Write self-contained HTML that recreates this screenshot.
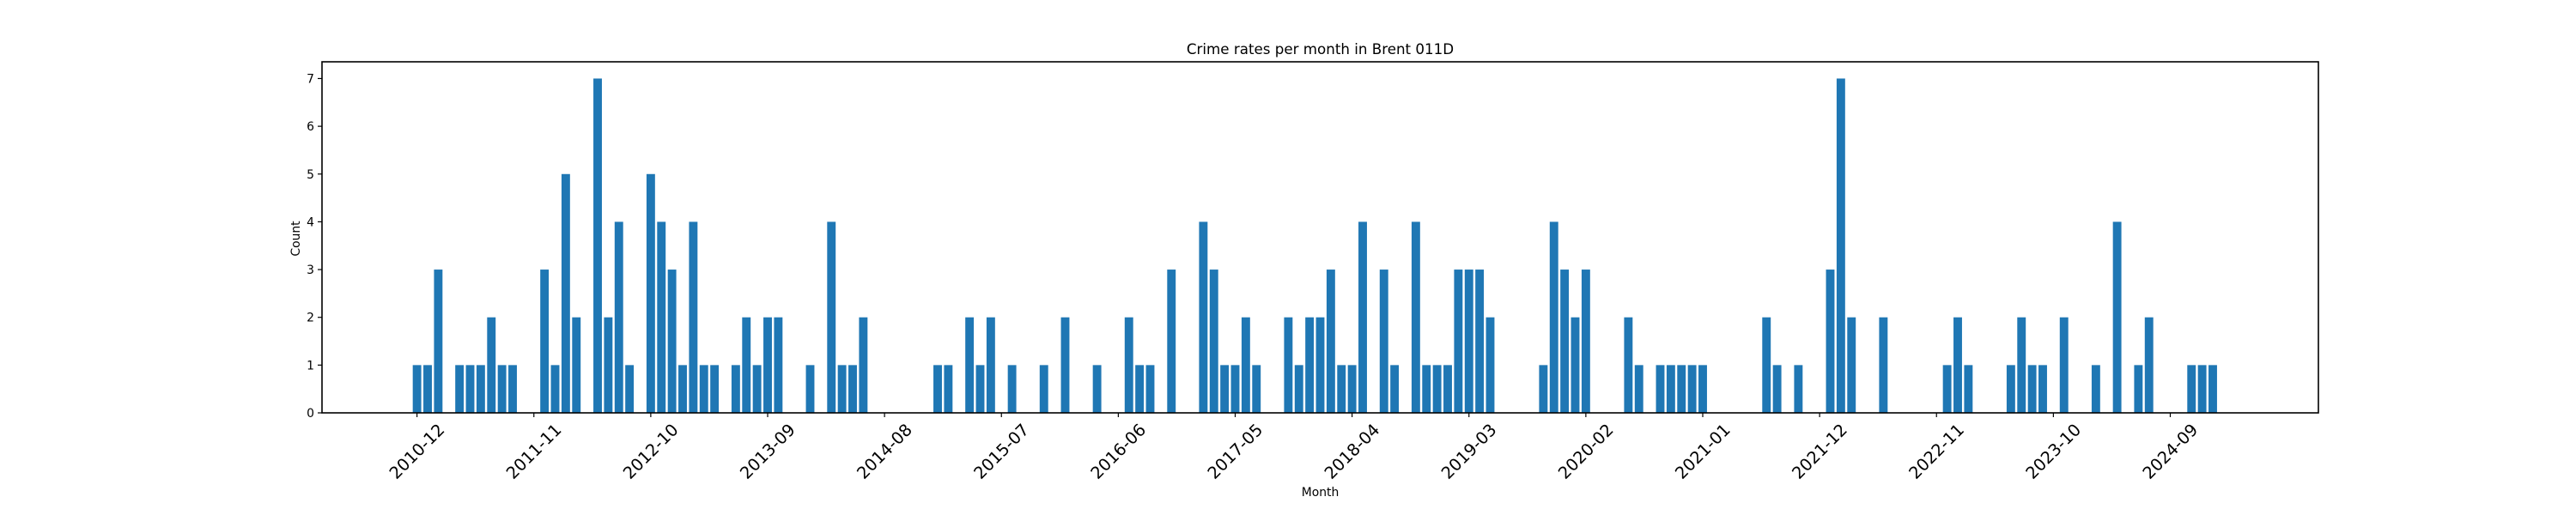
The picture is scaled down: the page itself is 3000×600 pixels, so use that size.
<!DOCTYPE html>
<html><head><meta charset="utf-8"><style>
html,body{margin:0;padding:0;background:#fff;}
svg{display:block;font-family:"DejaVu Sans","Liberation Sans",sans-serif;}
</style></head><body>
<svg id="chart" width="3000" height="600" viewBox="0 0 3000 600">
<rect x="0" y="0" width="3000" height="600" fill="#fff"/>
<g id="bars"></g>
<g id="yticks"></g>
<g id="xticks"></g>
<rect x="375" y="72" width="2325" height="409" fill="none" stroke="#000" stroke-width="1.6"/>
<text x="1537.5" y="63" text-anchor="middle" font-size="16.7" fill="#000">Crime rates per month in Brent 011D</text>
<text x="1537.5" y="578" text-anchor="middle" font-size="13.9" fill="#000">Month</text>
<text transform="translate(349,278) rotate(-90)" text-anchor="middle" font-size="13.9" fill="#000">Count</text>
</svg>
<script>
const startYear = 2010;
const startMonth = 12;
const counts = [
1,1,3,0,1,1,1,2,1,1,0,0,3,1,5,2,0,7,2,4,
1,0,5,4,3,1,4,1,1,0,1,2,1,2,2,0,0,1,0,4,
1,1,2,0,0,0,0,0,0,1,1,0,2,1,2,0,1,0,0,1,
0,2,0,0,1,0,0,2,1,1,0,3,0,0,4,3,1,1,2,1,
0,0,2,1,2,2,3,1,1,4,0,3,1,0,4,1,1,1,3,3,
3,2,0,0,0,0,1,4,3,2,3,0,0,0,2,1,0,1,1,1,
1,1,0,0,0,0,0,2,1,0,1,0,0,3,7,2,0,0,2,0,
0,0,0,0,1,2,1,0,0,0,1,2,1,1,0,2,0,0,1,0,
4,0,1,2,0,0,0,1,1,1,0
];
const yTicks = [0,1,2,3,4,5,6,7];
const tickEvery = 11;

const NS = "http://www.w3.org/2000/svg";
const months = counts.map((_, i) => {
  const m0 = startMonth - 1 + i;
  const y = startYear + Math.floor(m0 / 12);
  const m = (m0 % 12) + 1;
  return y + "-" + String(m).padStart(2, "0");
});
const AX_L = 375, AX_R = 2700, AX_T = 72, AX_B = 481;
const n = counts.length;
const xMin = -0.4 - 0.05 * (n - 1 + 0.8), xMax = n - 1 + 0.4 + 0.05 * (n - 1 + 0.8);
const yMax = 7.35;
function xScale(v) { return AX_L + (v - xMin) / (xMax - xMin) * (AX_R - AX_L); }
function yScale(v) { return AX_B - v / yMax * (AX_B - AX_T); }

const barsG = document.getElementById("bars");
counts.forEach((c, i) => {
  if (c <= 0) return;
  const r = document.createElementNS(NS, "rect");
  const x0 = xScale(i - 0.4), x1 = xScale(i + 0.4);
  r.setAttribute("x", x0);
  r.setAttribute("width", x1 - x0);
  r.setAttribute("y", yScale(c));
  r.setAttribute("height", yScale(0) - yScale(c));
  r.setAttribute("fill", "#1f77b4");
  
  
  barsG.appendChild(r);
});

const yG = document.getElementById("yticks");
yTicks.forEach(t => {
  const y = yScale(t);
  const l = document.createElementNS(NS, "line");
  l.setAttribute("x1", AX_L - 5); l.setAttribute("x2", AX_L);
  l.setAttribute("y1", y); l.setAttribute("y2", y);
  l.setAttribute("stroke", "#000"); l.setAttribute("stroke-width", "1.2");
  
  
  yG.appendChild(l);
  const tx = document.createElementNS(NS, "text");
  tx.setAttribute("x", AX_L - 9); tx.setAttribute("y", y + 5);
  tx.setAttribute("text-anchor", "end"); tx.setAttribute("font-size", "13.9");
  tx.textContent = String(t);
  
  
  yG.appendChild(tx);
});

const xG = document.getElementById("xticks");
for (let i = 0; i < n; i += tickEvery) {
  const x = xScale(i);
  const l = document.createElementNS(NS, "line");
  l.setAttribute("x1", x); l.setAttribute("x2", x);
  l.setAttribute("y1", AX_B); l.setAttribute("y2", AX_B + 5);
  l.setAttribute("stroke", "#000"); l.setAttribute("stroke-width", "1.2");
  
  
  xG.appendChild(l);
  const tx = document.createElementNS(NS, "text");
  tx.setAttribute("x", 0); tx.setAttribute("y", 0);
  tx.setAttribute("text-anchor", "middle");
  tx.setAttribute("dominant-baseline", "central");
  tx.setAttribute("font-size", "19.4");
  tx.setAttribute("transform", "translate(" + x + "," + (AX_B + 45) + ") rotate(-45)");
  tx.textContent = months[i];
  
  
  xG.appendChild(tx);
}
</script>
</body></html>
